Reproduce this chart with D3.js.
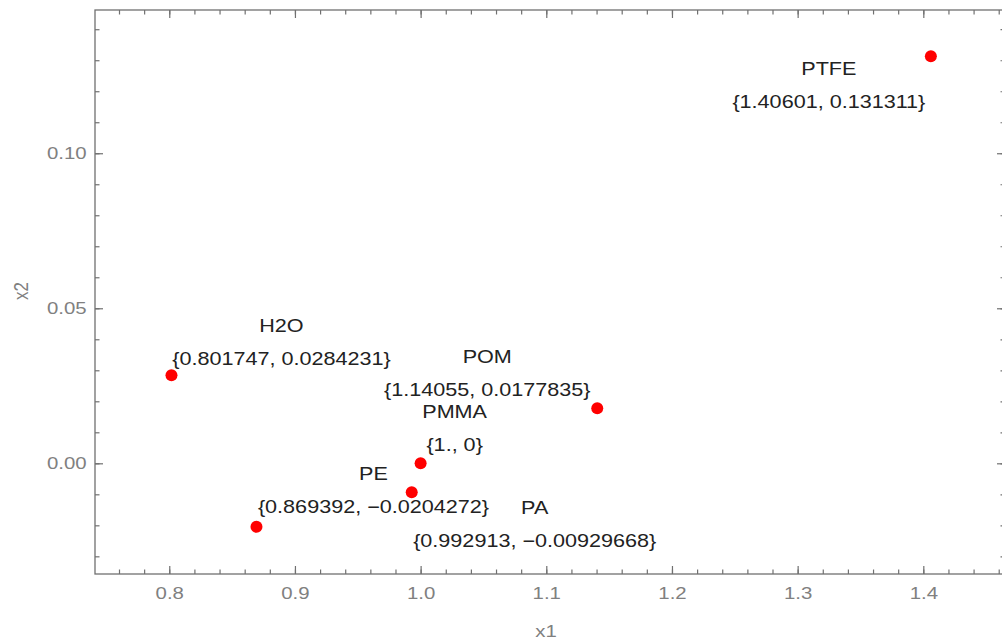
<!DOCTYPE html>
<html>
<head>
<meta charset="utf-8">
<script src="https://cdn.jsdelivr.net/npm/d3@7"></script>
<style>
  html, body { margin: 0; padding: 0; background: #fff; }
  svg { display: block; font-family: "Liberation Sans", Arial, sans-serif; }
  .tick text { fill: #808080; font-size: 17px; }
  .tick line { stroke: #707070; stroke-width: 1.2; }
  .domain { display: none; }
  .name, .coord { fill: #222; font-size: 18px; }
  .axis-title { fill: #808080; font-size: 17px; }
</style>
</head>
<body>
<svg id="chart" width="1002" height="642"></svg>
<script>
// data
var names = ["PTFE", "H2O", "POM", "PMMA", "PE", "PA"];
var xValues = [1.40601, 0.801747, 1.14055, 1, 0.869392, 0.992913];
var yValues = [0.131311, 0.0284231, 0.0177835, 0, -0.0204272, -0.00929668];
var coordLabels = ["{1.40601, 0.131311}", "{0.801747, 0.0284231}", "{1.14055, 0.0177835}",
                   "{1., 0}", "{0.869392, \u22120.0204272}", "{0.992913, \u22120.00929668}"];
var xTicks = [0.8, 0.9, 1.0, 1.1, 1.2, 1.3, 1.4];
var xTickLabels = ["0.8", "0.9", "1.0", "1.1", "1.2", "1.3", "1.4"];
var yTicks = [0.00, 0.05, 0.10];
var yTickLabels = ["0.00", "0.05", "0.10"];

// where each label block sits relative to its point (center of coord line, baseline)
var labelOffsets = [[-102, 52], [110, -10], [-110, -12], [34, -12], [117, -14], [123, 55]];

const frameL = 95, frameR = 1005, frameT = 10, frameB = 574;
const stretch = 1.2;   // text in the reference is a bit wide

const svg = d3.select('#chart');

const x = d3.scaleLinear().domain([0.7409, 1.465]).range([frameL, frameR]);
const y = d3.scaleLinear().domain([-0.0357, 0.1462]).range([frameB, frameT]);

const xMinor = d3.range(0.74, 1.47, 0.02).filter(v => x(v) >= frameL && x(v) <= frameR);
const yMinor = d3.range(-0.03, 0.15, 0.01);

// minor ticks all round
svg.append('g').attr('transform', `translate(0,${frameB})`)
  .call(d3.axisBottom(x).tickValues(xMinor).tickSize(-4.5).tickFormat(''));
svg.append('g').attr('transform', `translate(0,${frameT})`)
  .call(d3.axisTop(x).tickValues(xMinor).tickSize(-4.5).tickFormat(''));
svg.append('g').attr('transform', `translate(${frameL},0)`)
  .call(d3.axisLeft(y).tickValues(yMinor).tickSize(-4.5).tickFormat(''));
svg.append('g').attr('transform', `translate(${frameR},0)`)
  .call(d3.axisRight(y).tickValues(yMinor).tickSize(-4.5).tickFormat(''));

// major ticks
const xb = svg.append('g').attr('transform', `translate(0,${frameB})`)
  .call(d3.axisBottom(x).tickValues(xTicks).tickSize(-8).tickPadding(13)
    .tickFormat((d, i) => xTickLabels[i]));
xb.selectAll('text').attr('transform', `scale(${stretch},1)`);

svg.append('g').attr('transform', `translate(0,${frameT})`)
  .call(d3.axisTop(x).tickValues(xTicks).tickSize(-8).tickFormat(''));

const yl = svg.append('g').attr('transform', `translate(${frameL},0)`)
  .call(d3.axisLeft(y).tickValues(yTicks).tickSize(-8).tickPadding(7)
    .tickFormat((d, i) => yTickLabels[i]));
yl.selectAll('text').attr('transform', `scale(${stretch},1)`);

svg.append('g').attr('transform', `translate(${frameR},0)`)
  .call(d3.axisRight(y).tickValues(yTicks).tickSize(-8).tickFormat(''));

// frame
svg.append('rect')
  .attr('x', frameL).attr('y', frameT)
  .attr('width', frameR - frameL).attr('height', frameB - frameT)
  .attr('fill', 'none').attr('stroke', '#707070').attr('stroke-width', 1.3);

// axis titles
svg.append('text')
  .attr('class', 'axis-title')
  .attr('text-anchor', 'middle')
  .attr('transform', `translate(546,637) scale(${stretch},1)`)
  .text('x1');

svg.append('text')
  .attr('class', 'axis-title')
  .attr('text-anchor', 'middle')
  .attr('transform', `translate(28,291) rotate(-90) scale(1,${stretch})`)
  .text('x2');

// points
const pts = names.map((n, i) => ({ name: n, x: xValues[i], y: yValues[i], coord: coordLabels[i], off: labelOffsets[i] }));

svg.append('g').selectAll('circle')
  .data(pts)
  .enter()
  .append('circle')
  .attr('cx', d => x(d.x))
  .attr('cy', d => y(d.y))
  .attr('r', 6)
  .attr('fill', '#ff0000');

// labels: name on top, coordinates under it
const lab = svg.append('g').selectAll('g')
  .data(pts)
  .enter()
  .append('g')
  .attr('transform', d => `translate(${x(d.x) + d.off[0]},${y(d.y) + d.off[1]})`);

lab.append('text')
  .attr('class', 'coord')
  .attr('text-anchor', 'middle')
  .attr('transform', `scale(${stretch},1)`)
  .text(d => d.coord);

lab.append('text')
  .attr('class', 'name')
  .attr('text-anchor', 'middle')
  .attr('transform', `translate(0,-33) scale(${stretch},1)`)
  .text(d => d.name);
</script>
</body>
</html>
